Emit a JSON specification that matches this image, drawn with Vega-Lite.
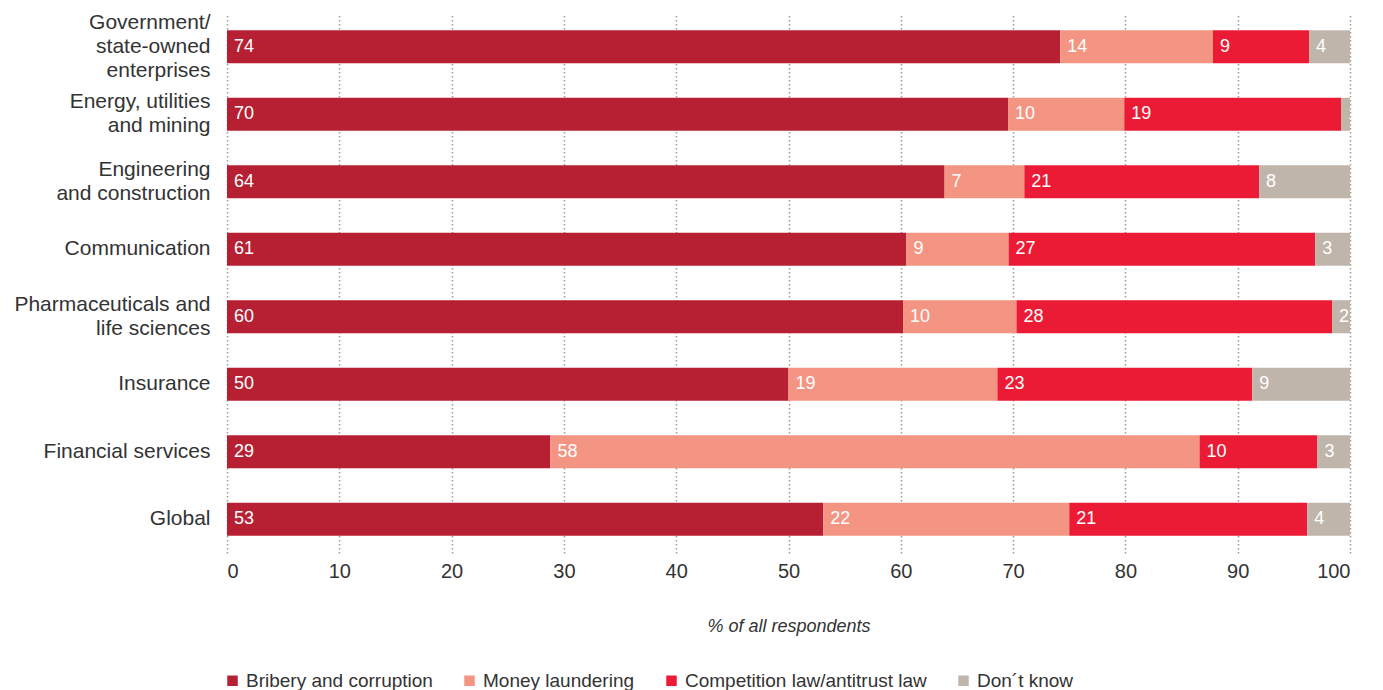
{
  "$schema": "https://vega.github.io/schema/vega-lite/v6.json",
  "width": 1123,
  "height": 540,
  "autosize": {"type": "none"},
  "padding": {"left": 227, "top": 13, "right": 33, "bottom": 137},
  "background": "white",
  "config": {"view": {"stroke": null}, "font": "Liberation Sans"},
  "data": {
    "values": [
      {"sector": "Government/state-owned enterprises", "type": "Bribery and corruption", "order": 1, "value": 74.2, "label": "74"},
      {"sector": "Government/state-owned enterprises", "type": "Money laundering", "order": 2, "value": 13.6, "label": "14"},
      {"sector": "Government/state-owned enterprises", "type": "Competition law/antitrust law", "order": 3, "value": 8.55, "label": "9"},
      {"sector": "Government/state-owned enterprises", "type": "Don´t know", "order": 4, "value": 3.65, "label": "4"},
      {"sector": "Energy, utilities and mining", "type": "Bribery and corruption", "order": 1, "value": 69.55, "label": "70"},
      {"sector": "Energy, utilities and mining", "type": "Money laundering", "order": 2, "value": 10.35, "label": "10"},
      {"sector": "Energy, utilities and mining", "type": "Competition law/antitrust law", "order": 3, "value": 19.3, "label": "19"},
      {"sector": "Energy, utilities and mining", "type": "Don´t know", "order": 4, "value": 0.8, "label": "1"},
      {"sector": "Engineering and construction", "type": "Bribery and corruption", "order": 1, "value": 63.9, "label": "64"},
      {"sector": "Engineering and construction", "type": "Money laundering", "order": 2, "value": 7.1, "label": "7"},
      {"sector": "Engineering and construction", "type": "Competition law/antitrust law", "order": 3, "value": 20.9, "label": "21"},
      {"sector": "Engineering and construction", "type": "Don´t know", "order": 4, "value": 8.1, "label": "8"},
      {"sector": "Communication", "type": "Bribery and corruption", "order": 1, "value": 60.5, "label": "61"},
      {"sector": "Communication", "type": "Money laundering", "order": 2, "value": 9.1, "label": "9"},
      {"sector": "Communication", "type": "Competition law/antitrust law", "order": 3, "value": 27.3, "label": "27"},
      {"sector": "Communication", "type": "Don´t know", "order": 4, "value": 3.1, "label": "3"},
      {"sector": "Pharmaceuticals and life sciences", "type": "Bribery and corruption", "order": 1, "value": 60.2, "label": "60"},
      {"sector": "Pharmaceuticals and life sciences", "type": "Money laundering", "order": 2, "value": 10.1, "label": "10"},
      {"sector": "Pharmaceuticals and life sciences", "type": "Competition law/antitrust law", "order": 3, "value": 28.1, "label": "28"},
      {"sector": "Pharmaceuticals and life sciences", "type": "Don´t know", "order": 4, "value": 1.6, "label": "2"},
      {"sector": "Insurance", "type": "Bribery and corruption", "order": 1, "value": 50.0, "label": "50"},
      {"sector": "Insurance", "type": "Money laundering", "order": 2, "value": 18.6, "label": "19"},
      {"sector": "Insurance", "type": "Competition law/antitrust law", "order": 3, "value": 22.7, "label": "23"},
      {"sector": "Insurance", "type": "Don´t know", "order": 4, "value": 8.7, "label": "9"},
      {"sector": "Financial services", "type": "Bribery and corruption", "order": 1, "value": 28.8, "label": "29"},
      {"sector": "Financial services", "type": "Money laundering", "order": 2, "value": 57.8, "label": "58"},
      {"sector": "Financial services", "type": "Competition law/antitrust law", "order": 3, "value": 10.5, "label": "10"},
      {"sector": "Financial services", "type": "Don´t know", "order": 4, "value": 2.9, "label": "3"},
      {"sector": "Global", "type": "Bribery and corruption", "order": 1, "value": 53.1, "label": "53"},
      {"sector": "Global", "type": "Money laundering", "order": 2, "value": 21.9, "label": "22"},
      {"sector": "Global", "type": "Competition law/antitrust law", "order": 3, "value": 21.2, "label": "21"},
      {"sector": "Global", "type": "Don´t know", "order": 4, "value": 3.8, "label": "4"}
    ]
  },
  "transform": [
    {"stack": "value", "groupby": ["sector"], "sort": [{"field": "order", "order": "ascending"}], "as": ["x0", "x1"]}
  ],
  "encoding": {
    "y": {
      "field": "sector",
      "type": "nominal",
      "sort": ["Government/state-owned enterprises", "Energy, utilities and mining", "Engineering and construction", "Communication", "Pharmaceuticals and life sciences", "Insurance", "Financial services", "Global"],
      "scale": {"paddingInner": 0.51, "paddingOuter": 0.255},
      "axis": {
        "title": null,
        "ticks": false,
        "domain": false,
        "labelFontSize": 21,
        "labelColor": "#333333",
        "labelLineHeight": 24,
        "labelPadding": 17,
        "labelLimit": 300,
        "labelOffset": {
          "condition": [
            {"test": "datum.value == 'Government/state-owned enterprises'", "value": -24},
            {"test": "indexof(['Energy, utilities and mining', 'Engineering and construction', 'Pharmaceuticals and life sciences'], datum.value) >= 0", "value": -12}
          ],
          "value": 0
        },
        "labelExpr": "datum.value == 'Government/state-owned enterprises' ? ['Government/', 'state-owned', 'enterprises'] : datum.value == 'Energy, utilities and mining' ? ['Energy, utilities', 'and mining'] : datum.value == 'Engineering and construction' ? ['Engineering', 'and construction'] : datum.value == 'Pharmaceuticals and life sciences' ? ['Pharmaceuticals and', 'life sciences'] : datum.value"
      }
    }
  },
  "layer": [
    {
      "mark": {"type": "bar"},
      "encoding": {
        "x": {
          "field": "x0",
          "type": "quantitative",
          "scale": {"domain": [0, 100], "nice": false},
          "axis": {
            "values": [0, 10, 20, 30, 40, 50, 60, 70, 80, 90, 100],
            "grid": true,
            "gridDash": [1.5, 2.5],
            "gridColor": "#A39A91",
            "gridWidth": 1.5,
            "ticks": false,
            "domain": false,
            "labelFontSize": 20,
            "labelColor": "#333333",
            "labelPadding": 8,
            "title": "% of all respondents",
            "titleFontStyle": "italic",
            "titleFontWeight": "normal",
            "titleFontSize": 18,
            "titleColor": "#333333",
            "titlePadding": 36
          }
        },
        "x2": {"field": "x1"},
        "color": {
          "field": "type",
          "type": "nominal",
          "scale": {
            "domain": ["Bribery and corruption", "Money laundering", "Competition law/antitrust law", "Don´t know"],
            "range": ["#B71F33", "#F49583", "#EC1B35", "#C0B5AB"]
          },
          "legend": {
            "title": null,
            "orient": "none",
            "legendX": -4,
            "legendY": 658,
            "direction": "horizontal",
            "symbolType": "square",
            "symbolSize": 110,
            "symbolStrokeWidth": 0,
            "labelFontSize": 19,
            "labelColor": "#333333",
            "labelOffset": 4,
            "labelLimit": 400,
            "columnPadding": 27
          }
        }
      }
    },
    {
      "mark": {"type": "text", "align": "left", "baseline": "middle", "dx": 7, "color": "white", "fontSize": 18, "clip": true},
      "encoding": {
        "x": {"field": "x0", "type": "quantitative"},
        "text": {"field": "label"}
      }
    }
  ]
}
